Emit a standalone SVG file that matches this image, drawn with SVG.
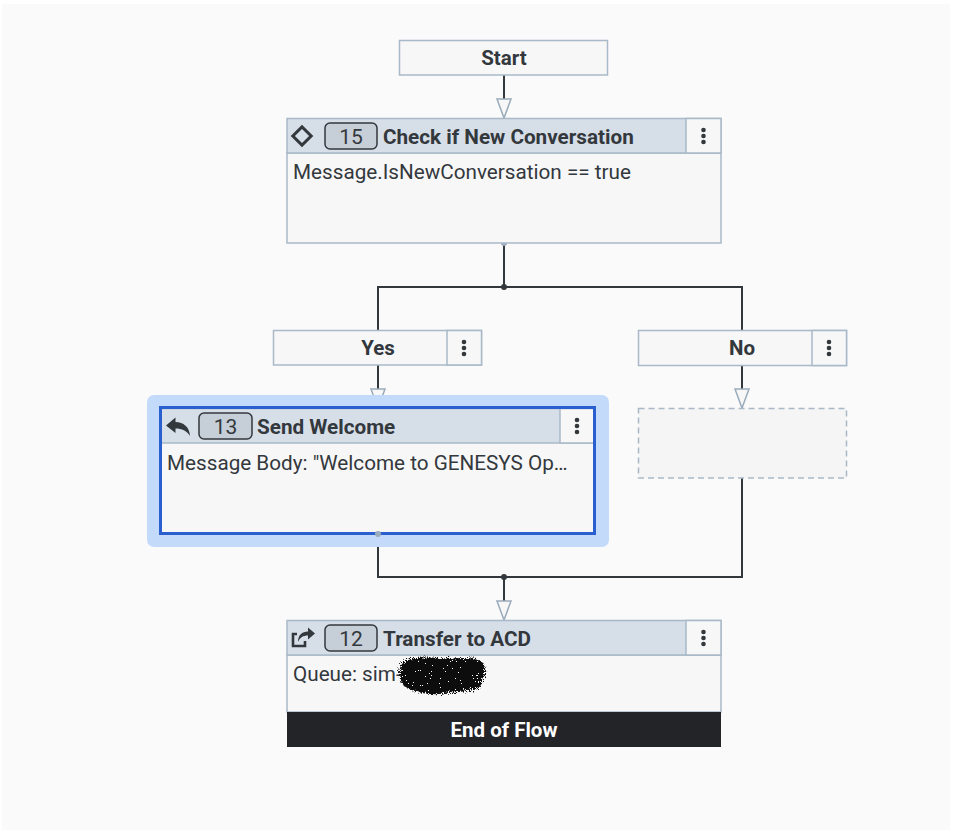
<svg xmlns="http://www.w3.org/2000/svg" width="953" height="834" viewBox="0 0 953 834">
<defs>
<style>
.hdr{fill:#d6dee8;stroke:#a9b9c8;stroke-width:1.5}
.body{fill:#f7f7f7;stroke:#a9b9c8;stroke-width:1.5}
.menu{fill:#f7f7f7;stroke:#a9b9c8;stroke-width:1.5}
.badge{fill:#c6ced8;stroke:#33383d;stroke-width:1.5}
.t{font-family:Roboto,"Liberation Sans",sans-serif;fill:#33383d}
.title{font-size:20.7px;font-weight:bold}
.txt{font-size:20.7px}
.num{font-size:21px;font-weight:normal;text-anchor:middle}
.lbl{font-size:20.5px;font-weight:bold;text-anchor:middle}
.dot{fill:#33383d}
.wire{fill:none;stroke:#33383d;stroke-width:2}
.arrow{fill:#f7f7f7;stroke:#9aabbb;stroke-width:1.5}
</style>
<g id="kebab">
<circle cx="0" cy="-6" r="2.3" class="dot"/>
<circle cx="0" cy="0" r="2.3" class="dot"/>
<circle cx="0" cy="6" r="2.3" class="dot"/>
</g>
<filter id="noise" x="-15%" y="-15%" width="130%" height="130%">
<feTurbulence type="fractalNoise" baseFrequency="1.4" numOctaves="2" seed="7" result="n"/>
<feDisplacementMap in="SourceGraphic" in2="n" scale="9" result="d"/>
<feComponentTransfer in="n" result="m"><feFuncA type="discrete" tableValues="0 1 1 1"/></feComponentTransfer>
<feComposite in="d" in2="m" operator="in"/>
</filter>
</defs>
<rect x="0" y="0" width="953" height="834" fill="#ffffff"/>
<rect x="2" y="4" width="948" height="826" fill="#fafafa"/>

<g id="connectors">
<line x1="504" y1="75" x2="504" y2="100" class="wire"/>
<polygon points="497,99 511,99 504,118" class="arrow"/>
<path d="M504,243 V287 M378,330 V287 H742 V330" class="wire"/>
<circle cx="504" cy="243" r="3" fill="#9aabbb"/>
<circle cx="504" cy="287" r="3" class="dot"/>
<line x1="378" y1="365" x2="378" y2="390" class="wire"/>
<polygon points="371,389 385,389 378,408" class="arrow"/>
<line x1="742" y1="366" x2="742" y2="390" class="wire"/>
<polygon points="735,389 749,389 742,408" class="arrow"/>
<path d="M378,534 V577 H742 V478 M504,577 V602" class="wire"/>
<circle cx="504" cy="577" r="3" class="dot"/>
<polygon points="497,601 511,601 504,620" class="arrow"/>
</g>

<g id="start">
<rect x="399.5" y="40.5" width="208" height="34.5" class="body"/>
<text x="504" y="64.5" class="t lbl">Start</text>
</g>

<g id="check">
<rect x="287" y="153" width="434" height="90" class="body"/>
<rect x="287" y="118.5" width="434" height="34.5" class="hdr"/>
<rect x="686" y="118.5" width="35" height="34.5" class="menu"/>
<use href="#kebab" x="703.5" y="136"/>
<rect x="295.5" y="129.5" width="13" height="13" transform="rotate(45 302 136)" fill="none" stroke="#33383d" stroke-width="3"/>
<rect x="325" y="123" width="52" height="26" rx="5" class="badge"/>
<text x="351" y="143.5" class="t num">15</text>
<text x="383" y="143.5" class="t title">Check if New Conversation</text>
<text x="293" y="179" class="t txt">Message.IsNewConversation == true</text>
</g>

<g id="yes">
<rect x="273.5" y="330.5" width="208" height="34.5" class="body"/>
<rect x="447" y="330.5" width="34.5" height="34.5" class="menu"/>
<use href="#kebab" x="464" y="348"/>
<text x="378" y="355" class="t lbl">Yes</text>
</g>

<g id="no">
<rect x="638.5" y="330.5" width="208" height="35" class="body"/>
<rect x="812" y="330.5" width="34.5" height="35" class="menu"/>
<use href="#kebab" x="829" y="348"/>
<text x="742" y="355" class="t lbl">No</text>
</g>

<g id="send-welcome">
<rect x="147" y="395" width="462" height="152" rx="7" fill="#c4dafa"/>
<rect x="161" y="443" width="433" height="90" fill="#f7f7f7"/>
<rect x="161" y="408.5" width="433" height="34.5" class="hdr"/>
<rect x="560" y="408.5" width="34" height="34.5" class="menu"/>
<use href="#kebab" x="577" y="426"/>
<rect x="160.5" y="407.5" width="434" height="126" fill="none" stroke="#2a5fcf" stroke-width="3"/>
<path d="M166,425.5 L175.5,417.5 L175.5,422 C183.5,422 189.5,427 190,436 C186.5,430.5 182,428.5 175.5,428.5 L175.5,433 Z" fill="#33383d"/>
<rect x="199" y="413" width="53" height="26" rx="5" class="badge"/>
<text x="225.5" y="433.5" class="t num">13</text>
<text x="257" y="433.5" class="t title">Send Welcome</text>
<text x="167" y="470" class="t txt">Message Body: "Welcome to GENESYS Op…</text>
<circle cx="378" cy="534" r="3" fill="#9aabbb"/>
</g>

<g id="empty-slot">
<rect x="638.5" y="408.5" width="208" height="69.5" fill="#f5f5f5" stroke="#a9b9c8" stroke-width="1.5" stroke-dasharray="6,4"/>
</g>

<g id="transfer">
<rect x="287" y="655" width="434" height="57" class="body"/>
<rect x="287" y="620.5" width="434" height="34.5" class="hdr"/>
<rect x="686" y="620.5" width="35" height="34.5" class="menu"/>
<use href="#kebab" x="703.5" y="638"/>
<path d="M297,634 H293 V646 H305 V641" fill="none" stroke="#33383d" stroke-width="2.6"/>
<path d="M298,642 C298,635 302,631.5 308,631.5 L308,627.5 L315,633.5 L308,639.5 L308,635.5 C303,635.5 300,637.5 298,642 Z" fill="#33383d"/>
<rect x="325" y="625" width="52" height="26" rx="5" class="badge"/>
<text x="351" y="645.5" class="t num">12</text>
<text x="383" y="645.5" class="t title">Transfer to ACD</text>
<text x="293" y="681" class="t txt">Queue: sim-</text>
<path d="M402,664 C410,656 430,657 450,659 C465,657 480,658 484,664 C487,672 484,682 478,689 C465,693 452,691 440,694 C425,695 410,691 403,685 C398,678 398,670 402,664 Z" fill="#111111" filter="url(#noise)"/>
<rect x="287" y="712" width="434" height="35" fill="#222428"/>
<text x="504" y="737" class="t lbl" style="fill:#ffffff">End of Flow</text>
</g>
</svg>
